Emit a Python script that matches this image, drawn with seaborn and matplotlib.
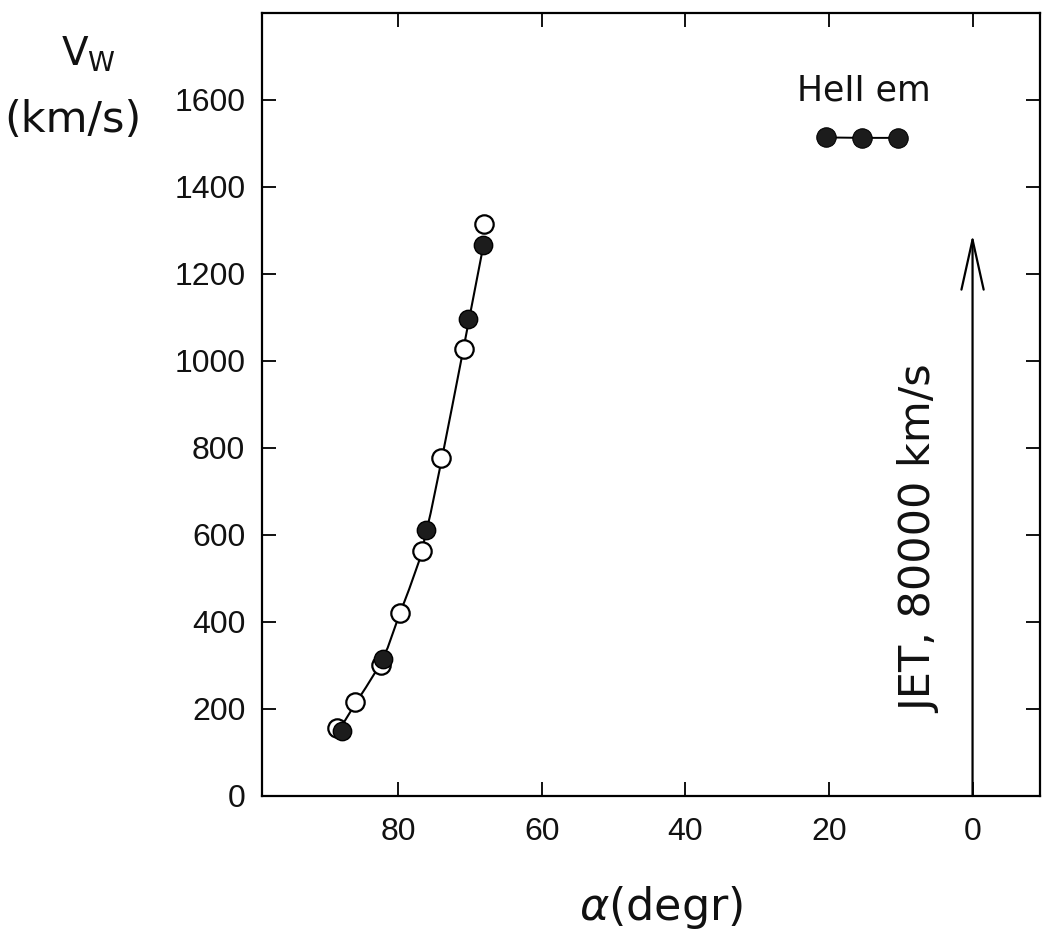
import matplotlib
matplotlib.use("Agg")
import matplotlib.pyplot as plt
import seaborn as sns
import pandas as pd

# Data
open_alpha = [88.5, 86.0, 82.35, 79.8, 76.7, 74.1, 70.85, 68.1]
open_vw = [157, 217, 302, 420, 562, 777, 1028, 1314]

filled_alpha = [87.9, 82.2, 76.1, 70.3, 68.15]
filled_vw = [150, 314, 612, 1096, 1265]

curve_alpha = [88.3, 87.0, 86.0, 84.5, 83.0, 81.5, 80.0, 78.5, 77.0, 75.5, 74.0, 72.5, 71.0, 69.5, 68.15]
curve_vw = [150, 185, 212, 250, 290, 340, 410, 475, 545, 650, 770, 895, 1022, 1150, 1265]

heii_alpha = [20.4, 15.4, 10.4]
heii_vw = [1513, 1512, 1512]

jet_alpha = 0
jet_top = 1290

xticks = [80, 60, 40, 20, 0]
yticks = [0, 200, 400, 600, 800, 1000, 1200, 1400, 1600]

sns.set_style("ticks")
plt.rcParams['font.family'] = ['DejaVu Sans']

fig = plt.figure(figsize=(10.62, 9.41), dpi=100)
ax = fig.add_axes([0.2467, 0.1541, 0.7326, 0.8326])

df_curve = pd.DataFrame({"a": curve_alpha, "v": curve_vw})
sns.lineplot(data=df_curve, x="a", y="v", ax=ax, color="black", lw=1.5, sort=False)

df_open = pd.DataFrame({"a": open_alpha, "v": open_vw})
sns.scatterplot(data=df_open, x="a", y="v", ax=ax, s=175, facecolor="white",
                edgecolor="black", linewidth=1.6, zorder=3)

df_fill = pd.DataFrame({"a": filled_alpha, "v": filled_vw})
sns.scatterplot(data=df_fill, x="a", y="v", ax=ax, s=175, color="#1c1c1c",
                edgecolor="black", linewidth=1, zorder=4)

df_he = pd.DataFrame({"a": heii_alpha, "v": heii_vw})
sns.lineplot(data=df_he, x="a", y="v", ax=ax, color="black", lw=1.4,
             marker="o", markersize=14, markerfacecolor="#1c1c1c",
             markeredgecolor="black")

ax.annotate("", xy=(jet_alpha, jet_top), xytext=(jet_alpha, 0),
            arrowprops=dict(arrowstyle="->,head_length=3.6,head_width=0.8",
                            mutation_scale=10, color="black", lw=1.6,
                            shrinkA=0, shrinkB=0))
ax.text(7.3, 589, "JET, 80000 km/s", rotation=90, ha="center", va="center",
        fontsize=31, color="#111111")
ax.text(15.1, 1620, "HeII em", ha="center", va="center", fontsize=25,
        color="#111111")

ax.set_xlim(99, -9.4)
ax.set_ylim(0, 1800)
ax.set_xticks(xticks)
ax.set_yticks(yticks)
ax.set_xticklabels([str(t) for t in xticks], fontsize=23, family="Liberation Sans")
ax.set_yticklabels([str(t) for t in yticks], fontsize=23, family="Liberation Sans")
ax.tick_params(axis="y", direction="in", length=10, width=1.4, left=True, right=True,
               labelright=False, pad=12, colors="#111111")
ax.tick_params(axis="x", direction="in", length=10, width=1.4, bottom=True, top=True,
               labeltop=False, pad=15, colors="#111111")
for s in ax.spines.values():
    s.set_linewidth(1.6)
    s.set_color("black")

ax.set_xlabel(r"$\alpha$(degr)", fontsize=32, color="#111111")
ax.xaxis.set_label_coords(0.513, -0.112)
ax.set_ylabel("")
fig.text(0.083, 0.942, r"V$_{\mathrm{W}}$", ha="center", va="center", fontsize=28,
         color="#111111")
fig.text(0.069, 0.872, "(km/s)", ha="center", va="center", fontsize=31,
         color="#111111")

fig.savefig("out.png", dpi=100, facecolor="white")
